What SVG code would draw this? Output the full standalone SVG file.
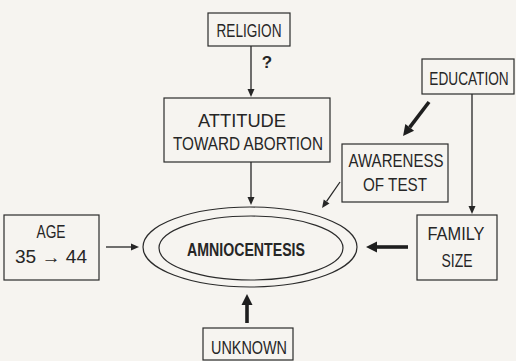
<svg xmlns="http://www.w3.org/2000/svg" width="516" height="361" viewBox="0 0 516 361">
<defs>
<style>
.box{fill:none;stroke:#2b2b2b;stroke-width:1.2}
.lbl{font-family:"Liberation Sans Narrow","Liberation Sans",Arial,sans-serif;font-size:17.5px;fill:#262626;text-anchor:middle}
.bold{font-weight:bold}
.q{font-size:17px}
.big{font-size:19px}
.thin{fill:none;stroke:#262626;stroke-width:1.3}
.thick{fill:none;stroke:#1e1e1e;stroke-width:3.6}
</style>
<marker id="ah" markerUnits="userSpaceOnUse" markerWidth="10" markerHeight="8" refX="0" refY="3.5" orient="auto" overflow="visible">
<path d="M0,0 L8,3.5 L0,7 Z" fill="#262626"/>
</marker>
<marker id="ahk" markerUnits="userSpaceOnUse" markerWidth="13" markerHeight="12" refX="0" refY="5.5" orient="auto" overflow="visible">
<path d="M0,0 L11,5.5 L0,11 Z" fill="#1e1e1e"/>
</marker>
</defs>
<rect x="0" y="0" width="516" height="361" fill="#f6f4f0"/>

<g id="connectors">
<path class="thin" d="M251,46 L251,89" marker-end="url(#ah)"/>
<path class="thin" d="M251,162 L251,197" marker-end="url(#ah)"/>
<path class="thick" d="M429,102 L409.7,127.3" marker-end="url(#ahk)"/>
<path class="thin" d="M472,94 L472,206" marker-end="url(#ah)"/>
<path class="thin" d="M340,182 L326.6,201.4" marker-end="url(#ah)"/>
<path class="thin" d="M106,247 L131,247" marker-end="url(#ah)"/>
<path class="thick" d="M408,247 L377,247" marker-end="url(#ahk)"/>
<path class="thick" d="M247,323 L247,305" marker-end="url(#ahk)"/>
<text class="lbl bold q" x="267" y="68">?</text>
</g>

<g id="religion">
<rect class="box" x="208" y="13" width="82" height="33"/>
<text class="lbl" x="249" y="37" textLength="65" lengthAdjust="spacingAndGlyphs">RELIGION</text>
</g>

<g id="attitude">
<rect class="box" x="164" y="98" width="166" height="64"/>
<text class="lbl" x="242" y="127" textLength="88" lengthAdjust="spacingAndGlyphs">ATTITUDE</text>
<text class="lbl" x="248" y="150" textLength="150" lengthAdjust="spacingAndGlyphs">TOWARD ABORTION</text>
</g>

<g id="education">
<rect class="box" x="422" y="59" width="92" height="35"/>
<text class="lbl" transform="translate(469,85) scale(0.78,1)" x="0" y="0">EDUCATION</text>
</g>

<g id="awareness">
<rect class="box" x="342" y="144" width="106" height="58"/>
<text class="lbl" x="396" y="167" textLength="95" lengthAdjust="spacingAndGlyphs">AWARENESS</text>
<text class="lbl" x="395" y="191" textLength="64" lengthAdjust="spacingAndGlyphs">OF TEST</text>
</g>

<g id="age">
<rect class="box" x="4" y="215" width="95" height="65"/>
<text class="lbl" x="51" y="238" textLength="29" lengthAdjust="spacingAndGlyphs">AGE</text>
<text class="lbl" x="51" y="263" textLength="72" lengthAdjust="spacingAndGlyphs">35 → 44</text>
</g>

<g id="family">
<rect class="box" x="417" y="215" width="80" height="65"/>
<text class="lbl" x="456" y="240" textLength="57" lengthAdjust="spacingAndGlyphs">FAMILY</text>
<text class="lbl" x="457" y="267" textLength="31" lengthAdjust="spacingAndGlyphs">SIZE</text>
</g>

<g id="unknown">
<rect class="box" x="203" y="328" width="90" height="32"/>
<text class="lbl" x="249" y="354" textLength="76" lengthAdjust="spacingAndGlyphs">UNKNOWN</text>
</g>

<g id="amniocentesis">
<ellipse class="box" cx="250" cy="247" rx="107" ry="40"/>
<ellipse class="box" cx="251" cy="248" rx="92" ry="32"/>
<text class="lbl bold big" x="246" y="256" textLength="118" lengthAdjust="spacingAndGlyphs">AMNIOCENTESIS</text>
</g>
</svg>
